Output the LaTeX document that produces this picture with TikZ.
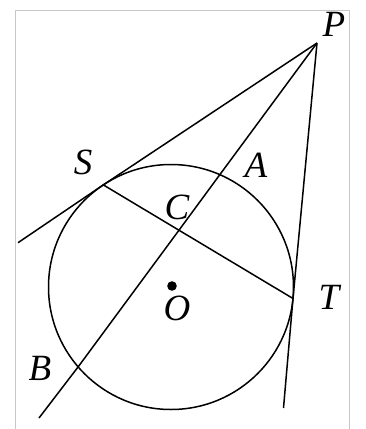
\documentclass[tikz,border=0pt]{standalone}
\usepackage{fontspec}
\setmainfont{Liberation Serif}
\begin{document}
\begin{tikzpicture}[x=1pt,y=-1pt,
  geo/.style={line width=1.5pt,black},
  lbl/.style={font=\fontsize{37}{40}\selectfont\itshape,inner sep=0pt},
  frame/.style={line width=1pt,black!22}]
\useasboundingbox (0,0) rectangle (366,429);
\draw[frame] (15,432) -- (15,10) -- (349,10) -- (349,432);
% points
\coordinate (O) at (171,287);
\coordinate (P) at (317,43);
\coordinate (S) at (103.3,184.9);
\coordinate (T) at (293.0,298.5);
\coordinate (A) at (219.8,174.7);
\coordinate (B) at (78.2,366.8);
\coordinate (C) at (intersection of P--B and S--T);
\coordinate (Send) at (18,242.7);
\coordinate (Tend) at (283.5,408);
\coordinate (Bend) at (39,418);
% circle
\draw[geo] (O) circle[radius=122.5];
% lines
\draw[geo] (P) -- (S) -- (Send);
\draw[geo] (P) -- (T) -- (Tend);
\draw[geo] (P) -- (A) -- (C) -- (B) -- (Bend);
\draw[geo] (S) -- (T);
\fill (172,286) circle[radius=4.8];
% labels
\node[lbl] (lP) at (334,24) {P};
\node[lbl] (lS) at (83,162) {S};
\node[lbl] (lA) at (256,165) {A};
\node[lbl] (lC) at (177,207) {C};
\node[lbl] (lO) at (177,308) {O};
\node[lbl] (lT) at (329,297) {T};
\node[lbl] (lB) at (40,368) {B};
\end{tikzpicture}
\end{document}
